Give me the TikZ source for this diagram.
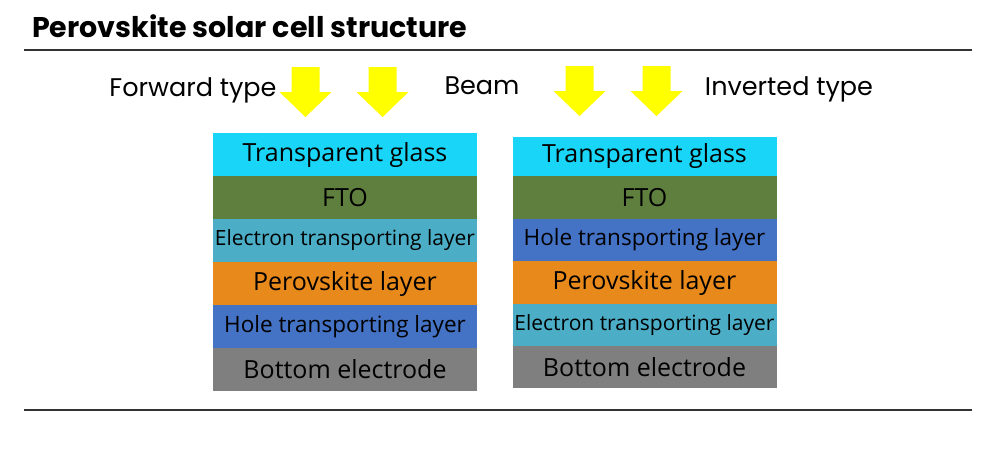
\documentclass[tikz,border=0pt]{standalone}
\usepackage{fontspec}
\setmainfont{Open Sans}
\newfontfamily\headfont{Poppins}
\definecolor{glass}{HTML}{19D6F8}
\definecolor{fto}{HTML}{5F7F3E}
\definecolor{etl}{HTML}{4BADC6}
\definecolor{pero}{HTML}{E8891B}
\definecolor{htl}{HTML}{4472C4}
\definecolor{elec}{HTML}{7F7F7F}
\definecolor{rulec}{HTML}{333333}
\definecolor{beamc}{HTML}{FFFF00}
\begin{document}
\begin{tikzpicture}[x=1pt,y=-1pt,
  layer/.style={minimum width=264pt, inner sep=0pt, text=black, font=\fontsize{25}{27}\selectfont},
  longlbl/.style={font=\fontsize{21}{23}\selectfont},
  midlbl/.style={font=\fontsize{22.5}{24}\selectfont},
  rulestyle/.style={draw=rulec, line width=2pt},
  headstyle/.style={font=\headfont\fontsize{25.5}{27}\selectfont, inner sep=0pt},
  beam/.pic={\fill[beamc] (-14,0) -- (14,0) -- (14,25) -- (26,25) -- (0,50) -- (-26,25) -- (-14,25) -- cycle;}]
\useasboundingbox[fill=white] (0,0) rectangle (1000,464);
% title and rules
\node[anchor=base west, inner sep=0pt, font=\headfont\bfseries\fontsize{28.5}{31}\selectfont] (title) at (32,37) {Perovskite solar cell structure};
\draw[rulestyle] (24,50) coordinate (r1a) -- (972,50) coordinate (r1b);
\draw[rulestyle] (24,410) coordinate (r2a) -- (972,410) coordinate (r2b);
% headers
\node[headstyle] (fwd) at (193,90) {Forward type};
\node[headstyle] (beamlbl) at (482,86) {Beam};
\node[headstyle] (inv) at (789,89) {Inverted type};
% arrows
\pic at (305.5,67) {beam};
\pic at (382.5,67) {beam};
\pic at (579.5,66) {beam};
\pic at (656.5,66) {beam};
% forward stack
\node[layer, fill=glass, minimum height=43pt] (f1) at (345,154.5) {Transparent glass};
\node[layer, fill=fto,   minimum height=43pt] (f2) at (345,197.5) {FTO};
\node[layer, fill=etl,   minimum height=43pt, longlbl] (f3) at (345,240.5) {Electron transporting layer};
\node[layer, fill=pero,  minimum height=43pt] (f4) at (345,283.5) {Perovskite layer};
\node[layer, fill=htl,   minimum height=43pt, midlbl] (f5) at (345,326.5) {Hole transporting layer};
\node[layer, fill=elec,  minimum height=43pt] (f6) at (345,369.5) {Bottom electrode};
% inverted stack
\node[layer, fill=glass, minimum height=39pt] (i1) at (644.5,156.5) {Transparent glass};
\node[layer, fill=fto,   minimum height=43pt] (i2) at (644.5,197.5) {FTO};
\node[layer, fill=htl,   minimum height=42pt, midlbl] (i3) at (644.5,240) {Hole transporting layer};
\node[layer, fill=pero,  minimum height=43pt] (i4) at (644.5,282.5) {Perovskite layer};
\node[layer, fill=etl,   minimum height=42pt, longlbl] (i5) at (644.5,325) {Electron transporting layer};
\node[layer, fill=elec,  minimum height=42pt] (i6) at (644.5,367) {Bottom electrode};
\end{tikzpicture}
\end{document}
